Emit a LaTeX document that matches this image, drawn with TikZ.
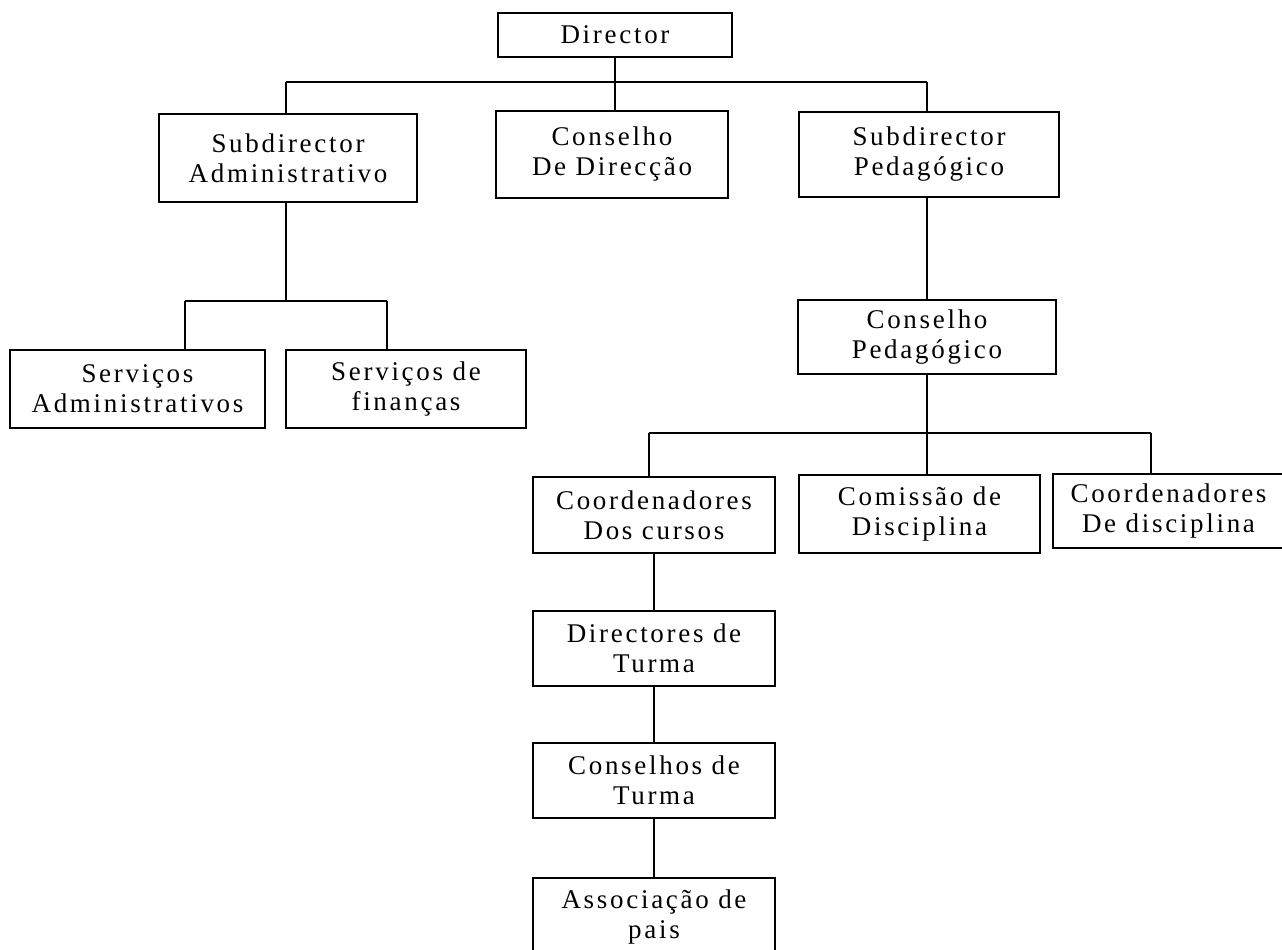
\documentclass[tikz,border=0pt]{standalone}
\usepackage{fontspec}
\setmainfont[LetterSpace=10]{Liberation Serif}
\begin{document}
\begin{tikzpicture}[x=1pt,y=-1pt,
  box/.style={draw=black,line width=1.6pt,inner sep=0pt,align=center,
    font=\fontsize{27}{30}\selectfont,fill=white},
  link/.style={draw=black,line width=1.6pt}]
\useasboundingbox (0,0) rectangle (1282,950);
% nodes
\node[box,minimum width=234pt,minimum height=44pt] (dir) at (615,35) {Director};
\node[box,minimum width=258pt,minimum height=88pt] (sa) at (288,158) {Subdirector\\Administrativo};
\node[box,minimum width=232pt,minimum height=87pt] (cd) at (612,154.5) {Conselho\\De Direcção};
\node[box,minimum width=260pt,minimum height=85pt] (sp) at (929,154.5) {Subdirector\\Pedagógico};
\node[box,minimum width=258pt,minimum height=74pt] (cp) at (927,337) {Conselho\\Pedagógico};
\node[box,minimum width=255pt,minimum height=78pt] (sadm) at (137.5,389) {Serviços\\Administrativos};
\node[box,minimum width=240pt,minimum height=78pt] (sfin) at (406,389) {Serviços de\\finanças};
\node[box,minimum width=242pt,minimum height=76pt] (ccur) at (654,515) {Coordenadores\\Dos cursos};
\node[box,minimum width=241pt,minimum height=78pt] (com) at (919.5,514) {Comissão de\\Disciplina};
\node[box,minimum width=231pt,minimum height=74pt] (cdis) at (1168.5,511) {Coordenadores\\De disciplina};
\node[box,minimum width=242pt,minimum height=75pt] (dt) at (654,648.5) {Directores de\\Turma};
\node[box,minimum width=242pt,minimum height=75pt] (ct) at (654,780.5) {Conselhos de\\Turma};
\node[box,minimum width=242pt,minimum height=78pt] (ap) at (654,917) {Associação de\\pais};
% junction coordinates
\coordinate (t1) at (615,82);
\coordinate (t1l) at (286,82);
\coordinate (t1r) at (927,82);
\coordinate (t2) at (286,301);
\coordinate (t2l) at (185,301);
\coordinate (t2r) at (387,301);
\coordinate (t3) at (927,433);
\coordinate (t3l) at (649,433);
\coordinate (t3r) at (1151,433);
% connectors
\draw[link] (dir.south -| t1) -- (t1);
\draw[link] (t1l) -- (t1r);
\draw[link] (t1l) -- (t1l |- sa.north);
\draw[link] (t1) -- (t1 |- cd.north);
\draw[link] (t1r) -- (t1r |- sp.north);
\draw[link] (t2 |- sa.south) -- (t2);
\draw[link] (t2l) -- (t2r);
\draw[link] (t2l) -- (t2l |- sadm.north);
\draw[link] (t2r) -- (t2r |- sfin.north);
\draw[link] (sp.south -| t1r) -- (t1r |- cp.north);
\draw[link] (t3 |- cp.south) -- (t3);
\draw[link] (t3l) -- (t3r);
\draw[link] (t3l) -- (t3l |- ccur.north);
\draw[link] (t3) -- (t3 |- com.north);
\draw[link] (t3r) -- (t3r |- cdis.north);
\draw[link] (ccur.south) -- (dt.north);
\draw[link] (dt.south) -- (ct.north);
\draw[link] (ct.south) -- (ap.north);
\end{tikzpicture}
\end{document}
